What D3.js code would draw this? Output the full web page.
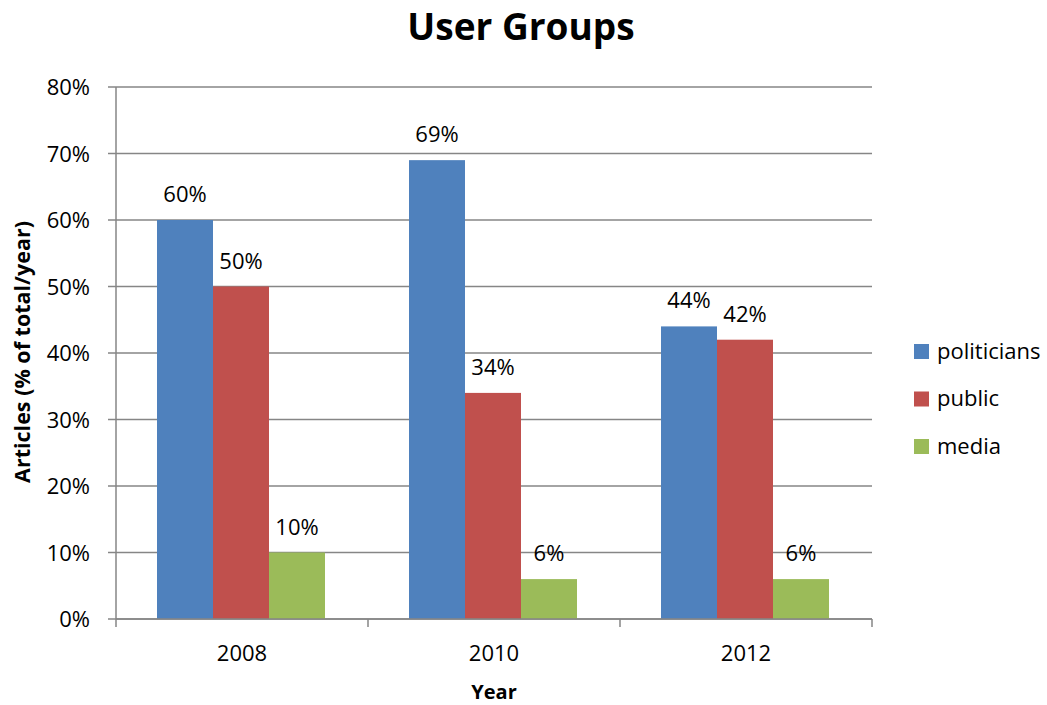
<!DOCTYPE html>
<html><head><meta charset="utf-8">
<script src="https://cdn.jsdelivr.net/npm/d3@7"></script>
<style>body{margin:0;background:#fff}svg{display:block}text{font-family:"Open Sans",sans-serif}</style>
</head><body>
<script>
const years = ["2008","2010","2012"];
const seriesNames = ["politicians","public","media"];
const politicians = [60,69,44];
const publicVals = [50,34,42];
const media = [10,6,6];
const colors = ["#4F81BD","#C0504D","#9BBB59"];
const yTicks = [0,10,20,30,40,50,60,70,80];
const seriesVals = [politicians, publicVals, media];

const W=1047,H=705;
const svg=d3.select("body").append("svg").attr("width",W).attr("height",H);
const pL=116,pR=872,pT=87,pB=619;
const x0=d3.scaleBand().domain(years).range([pL,pR]).padding(0);
const x1=d3.scaleBand().domain(seriesNames).range([41,41+168]).padding(0);
const y=d3.scaleLinear().domain([0,80]).range([pB,pT]);

svg.append("g").selectAll("line").data(yTicks).join("line")
 .attr("x1",pL-8).attr("x2",pR).attr("y1",d=>y(d)).attr("y2",d=>y(d))
 .attr("stroke","#868686").attr("stroke-width",1.5);
svg.append("line").attr("x1",pL).attr("x2",pL).attr("y1",pT).attr("y2",pB)
 .attr("stroke","#868686").attr("stroke-width",1.5);
svg.append("g").selectAll("text").data(yTicks).join("text")
 .attr("x",90).attr("y",d=>y(d)+8).attr("text-anchor","end")
 .attr("font-size",22).attr("fill","#000").text(d=>d+"%");
seriesNames.forEach((s,si)=>{
  const g=svg.append("g");
  g.selectAll("rect").data(years).join("rect")
   .attr("x",(d)=>x0(d)+x1(s)).attr("width",x1.bandwidth())
   .attr("y",(d,i)=>y(seriesVals[si][i])).attr("height",(d,i)=>pB-y(seriesVals[si][i]))
   .attr("fill",colors[si]);
  g.selectAll("text").data(years).join("text")
   .attr("x",d=>x0(d)+x1(s)+x1.bandwidth()/2).attr("y",(d,i)=>y(seriesVals[si][i])-18)
   .attr("text-anchor","middle").attr("font-size",22).attr("fill","#000")
   .text((d,i)=>seriesVals[si][i]+"%");
});
svg.append("line").attr("x1",pL).attr("x2",pR).attr("y1",pB).attr("y2",pB)
 .attr("stroke","#868686").attr("stroke-width",1.5);
const bounds=years.map(d=>x0(d)).concat([pR]);
svg.append("g").selectAll("line").data(bounds).join("line")
 .attr("x1",d=>d).attr("x2",d=>d).attr("y1",pB).attr("y2",pB+8)
 .attr("stroke","#868686").attr("stroke-width",1.5);
svg.append("g").selectAll("text").data(years).join("text")
 .attr("x",d=>x0(d)+x0.bandwidth()/2).attr("y",661).attr("text-anchor","middle")
 .attr("font-size",22).text(d=>d);
svg.append("text").attr("x",521).attr("y",40).attr("text-anchor","middle")
 .attr("font-size",37).attr("font-weight","bold").text("User Groups");
svg.append("text").attr("x",494).attr("y",699).attr("text-anchor","middle")
 .attr("font-size",20).attr("font-weight","bold").text("Year");
svg.append("text").attr("transform","translate(30,352) rotate(-90)").attr("text-anchor","middle")
 .attr("font-size",21.5).attr("font-weight","bold").text("Articles (% of total/year)");
const lg=svg.append("g");
seriesNames.forEach((s,i)=>{
  const yy=351.5+i*47.5;
  lg.append("rect").attr("x",914).attr("y",yy-7.5).attr("width",15).attr("height",15).attr("fill",colors[i]);
  lg.append("text").attr("x",937).attr("y",yy+7).attr("font-size",22).text(s);
});
</script>
</body></html>
